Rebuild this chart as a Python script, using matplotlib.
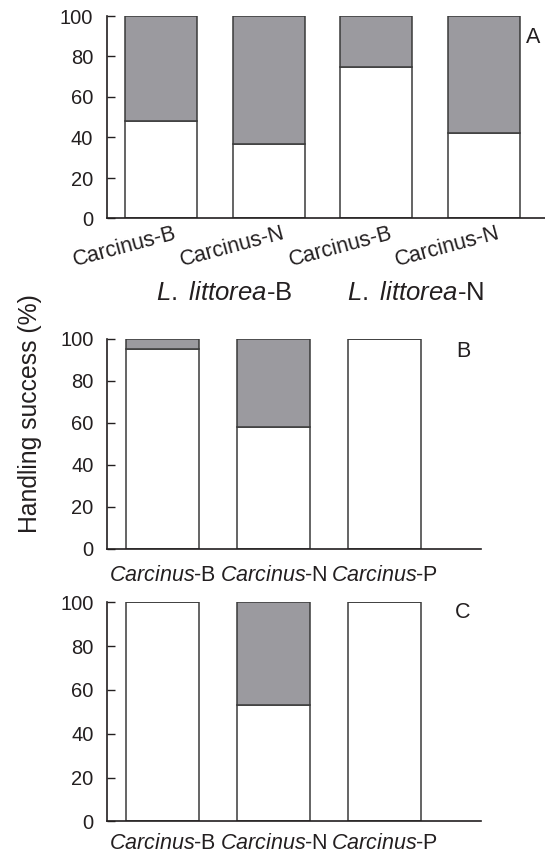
import matplotlib
matplotlib.use("Agg")
import matplotlib.pyplot as plt
import matplotlib.transforms as mtransforms
import numpy as np

# ==========================
# Data (handling success, %)
# ==========================
panel_a_labels = ["Carcinus-B", "Carcinus-N", "Carcinus-B", "Carcinus-N"]
panel_a_success = [48, 37, 75, 42]
prey_groups = ["L. littorea-B", "L. littorea-N"]

panel_bc_labels = [r"$\it{Carcinus}$-B", r"$\it{Carcinus}$-N", r"$\it{Carcinus}$-P"]
panel_b_success = [95, 58, 100]
panel_c_success = [100, 53, 100]

y_ticks = [0, 20, 40, 60, 80, 100]

# ==========================
# Style
# ==========================
plt.rcParams["font.family"] = "Liberation Sans"
plt.rcParams["mathtext.fontset"] = "custom"
plt.rcParams["mathtext.rm"] = "Liberation Sans"
plt.rcParams["mathtext.it"] = "Liberation Sans:italic"

GREY = "#9b9a9f"
EDGE = "#3a3a3a"
AXIS = "#231f20"
TEXT = "#231f20"
TICK_FS = 14.5
XLAB_FS = 15.5

W, H = 545, 855
fig = plt.figure(figsize=(W / 100, H / 100), dpi=100)


def px_axes(left, right, top, bottom):
    return fig.add_axes([left / W, 1 - bottom / H, (right - left) / W, (bottom - top) / H])


def draw_bars(ax, success, width):
    x = np.arange(len(success))
    success = np.array(success)
    fail = 100 - success
    ax.bar(x, success, width, color="white", edgecolor=EDGE, linewidth=1.1, zorder=2)
    ax.bar(x, fail, width, bottom=success, color=GREY, edgecolor=EDGE, linewidth=1.1, zorder=2)


def style_axes(ax):
    for side in ["top", "right"]:
        ax.spines[side].set_visible(False)
    for side in ["left", "bottom"]:
        ax.spines[side].set_color(AXIS)
        ax.spines[side].set_linewidth(1.2)
        ax.spines[side].set_zorder(3)
    ax.set_ylim(0, 100)
    ax.set_yticks(y_ticks)
    ax.tick_params(axis="y", direction="in", length=5.5, width=1.0, color=AXIS,
                   pad=10, labelsize=TICK_FS, labelcolor=TEXT)
    ax.tick_params(axis="x", length=0, labelsize=XLAB_FS, labelcolor=TEXT)


# ==========================
# Panel A
# ==========================
ax_a = px_axes(107, 545, 16, 218.5)
draw_bars(ax_a, panel_a_success, 0.668)
style_axes(ax_a)
ax_a.set_xlim(-0.5, 3.566)
ax_a.set_xticks([])
trans_a = mtransforms.blended_transform_factory(ax_a.transData, ax_a.transAxes)
for i, lab in enumerate(panel_a_labels):
    ax_a.text(i + 0.12, -0.02, lab, transform=trans_a, rotation=15,
              rotation_mode="anchor", ha="right", va="top",
              fontsize=XLAB_FS, color=TEXT)
for xpos, grp in zip([0.585, 2.368], prey_groups):
    genus, suffix = grp.split("-")
    ax_a.text(xpos, -0.4025, r"$\it{" + genus.replace(" ", r"\ ") + "}$-" + suffix,
              transform=trans_a, ha="center", va="baseline",
              fontsize=18.5, color=TEXT)

# ==========================
# Panels B and C
# ==========================
for ax_top, ax_bottom, success, xpad in [(339, 548.7, panel_b_success, 12),
                                         (602.3, 821.3, panel_c_success, 8.5)]:
    ax = px_axes(107.3, 481, ax_top, ax_bottom)
    draw_bars(ax, success, 0.66)
    style_axes(ax)
    ax.set_xlim(-0.5, 2.87)
    ax.set_xticks(np.arange(len(panel_bc_labels)), panel_bc_labels)
    ax.tick_params(axis="x", pad=xpad)

# panel letters
for letter, (lx, ly) in zip("ABC", [(526, 43), (456, 357), (455, 618)]):
    fig.text(lx / W, 1 - ly / H, letter, ha="left", va="baseline",
             fontsize=15.5, color=TEXT)

fig.text(30 / W, 1 - 413.5 / H, "Handling success (%)", rotation=90,
         ha="center", va="center", fontsize=17.8, color=TEXT)

fig.savefig("out.png", dpi=100)
